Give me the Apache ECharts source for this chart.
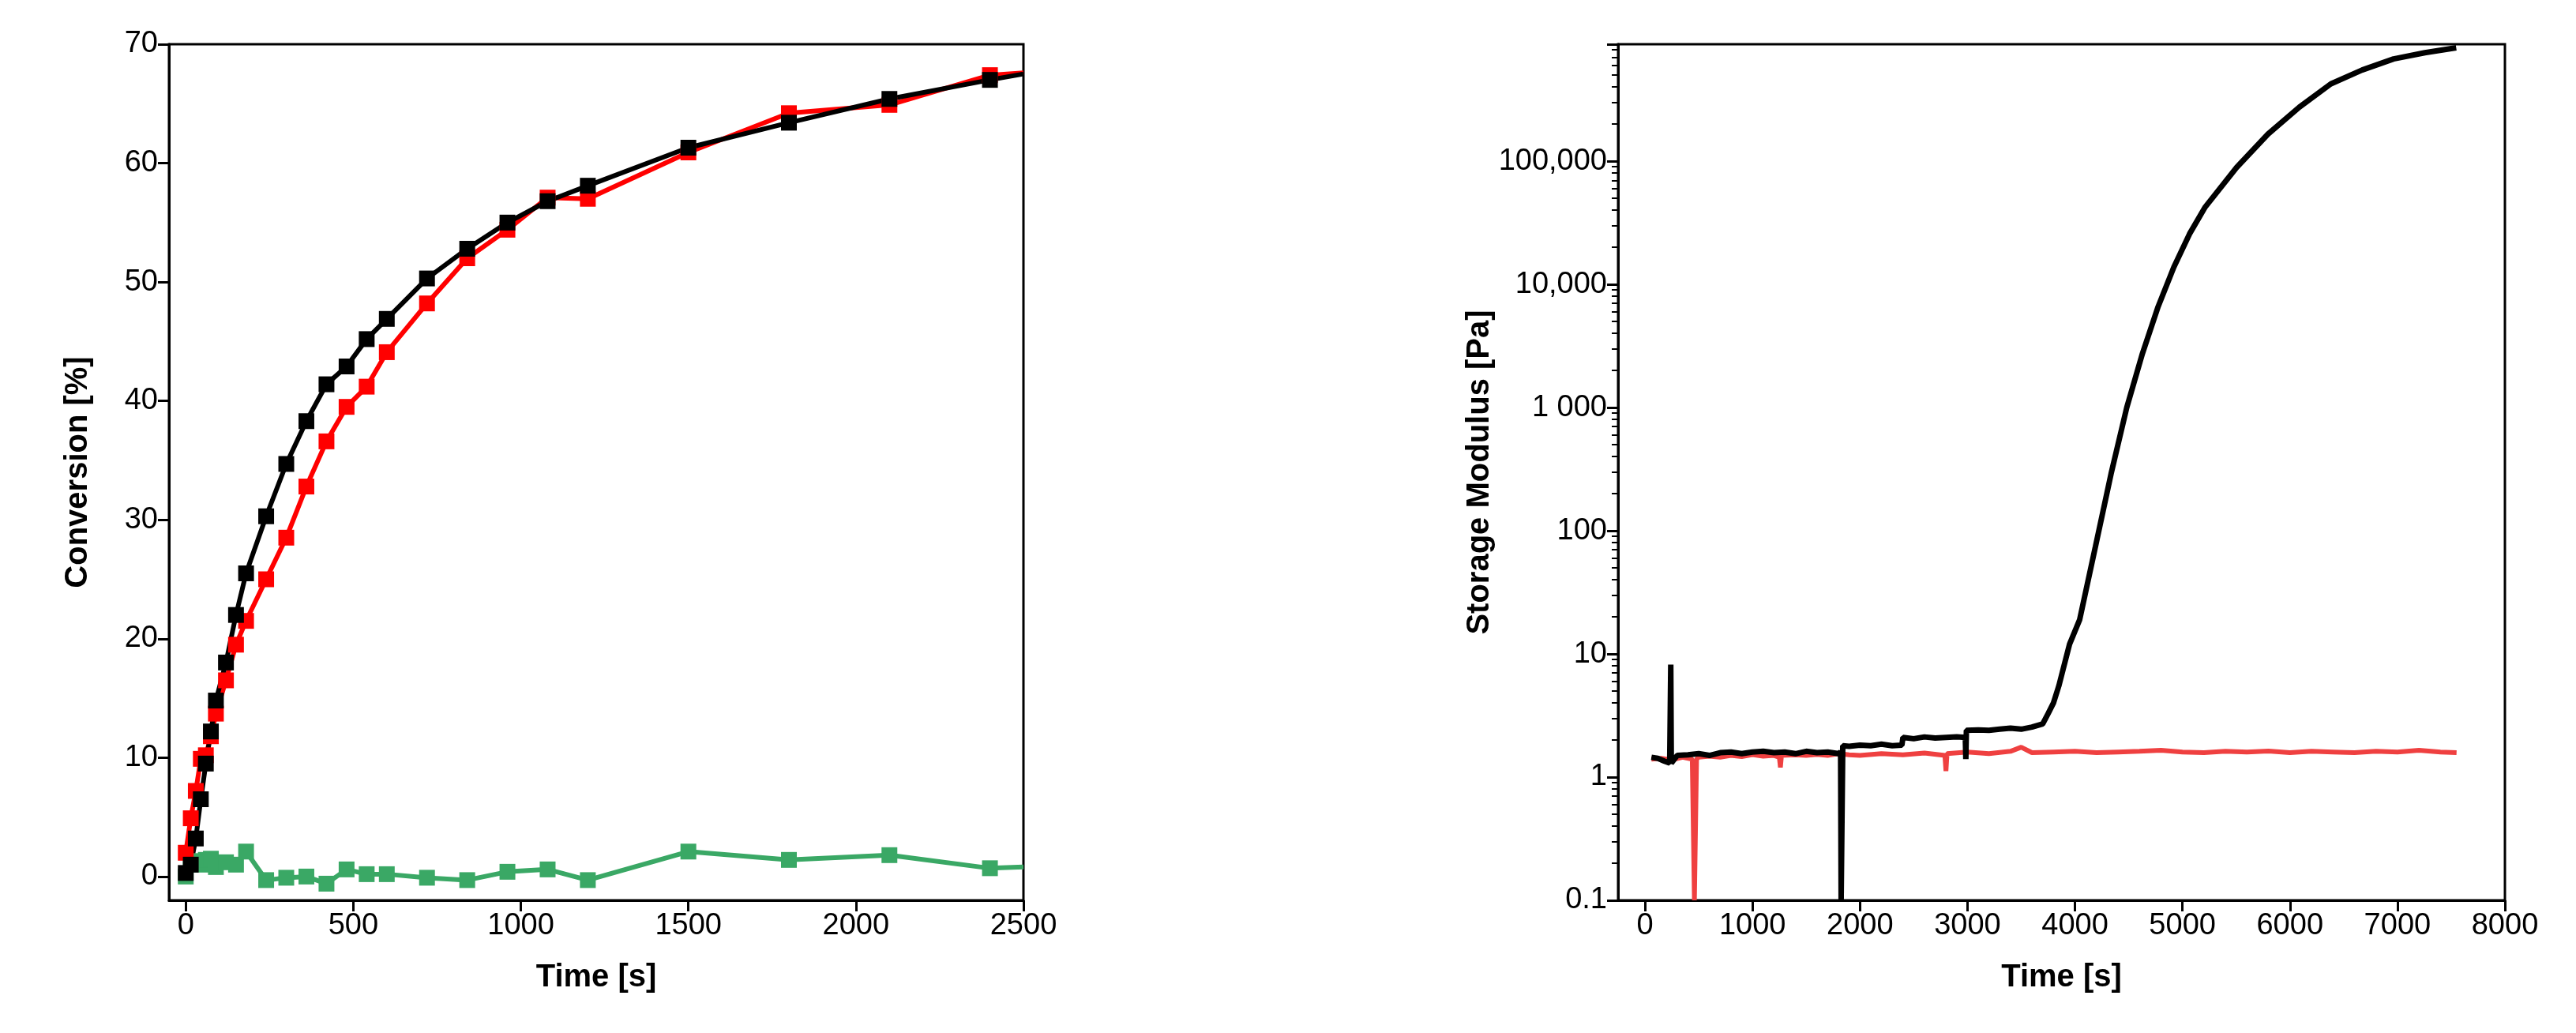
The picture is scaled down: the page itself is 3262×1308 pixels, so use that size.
<!DOCTYPE html>
<html><head><meta charset="utf-8">
<script src="https://cdn.jsdelivr.net/npm/echarts@6/dist/echarts.min.js"></script>
<style>html,body{margin:0;padding:0;background:#fff}#c{width:3262px;height:1308px}</style>
</head><body><div id="c"></div>
<script>
const convTime = [0,15,30,45,60,75,90,120,150,180,240,300,360,420,480,540,600,720,840,960,1080,1200,1500,1800,2100,2400,2500];
const convRed  = [2.0,4.9,7.2,9.9,10.2,11.8,13.7,16.5,19.5,21.5,25.0,28.5,32.8,36.6,39.5,41.2,44.1,48.2,52.0,54.4,57.1,57.0,60.9,64.2,64.9,67.4,67.6];
const convBlack= [0.3,1.0,3.2,6.5,9.5,12.2,14.8,18.0,22.0,25.5,30.3,34.7,38.3,41.4,42.9,45.2,46.9,50.3,52.8,55.0,56.8,58.1,61.3,63.4,65.4,67.0,67.5];
const convGreen= [0.0,1.2,1.3,1.0,1.4,1.5,0.8,1.2,1.0,2.1,-0.3,-0.1,0.0,-0.6,0.6,0.2,0.2,-0.1,-0.3,0.4,0.6,-0.3,2.1,1.4,1.8,0.7,0.8];
const convXTicks = [0,500,1000,1500,2000,2500];
const convYTicks = [0,10,20,30,40,50,60,70];

const modBlackT = [60,120,180,230,240,245,250,300,400,500,600,700,800,900,1000,1100,1200,1300,1400,1500,1600,1700,1800,1820,1825,1830,1840,1900,2000,2100,2200,2300,2390,2400,2500,2600,2700,2800,2900,2980,2985,2990,3000,3100,3200,3300,3400,3500,3600,3700,3752,3800,3850,3898,3950,4044,4190,4336,4482,4628,4774,4920,5066,5212,5504,5796,6088,6380,6672,6964,7255,7547];
const modBlackG = [1.45,1.42,1.35,1.3,8.2,1.3,1.3,1.5,1.52,1.55,1.5,1.58,1.6,1.55,1.6,1.62,1.58,1.6,1.55,1.62,1.58,1.6,1.55,1.6,0.1,0.1,1.8,1.78,1.82,1.8,1.85,1.8,1.82,2.1,2.05,2.12,2.08,2.1,2.12,2.1,1.4,2.4,2.35,2.42,2.4,2.45,2.5,2.45,2.55,2.7,3.3,4.0,5.5,8,12,19,74,290,1000,2750,6600,13800,25700,42500,89000,166000,275000,424000,550000,676000,760000,832000];
const modRedT = [60,150,250,350,440,460,470,480,500,600,700,800,900,1000,1100,1200,1250,1260,1270,1400,1500,1600,1700,1800,1900,2000,2200,2400,2600,2790,2800,2810,3000,3200,3400,3500,3600,3800,4000,4200,4400,4600,4800,5000,5200,5400,5600,5800,6000,6200,6400,6600,6800,7000,7200,7400,7550];
const modRedG = [1.4,1.42,1.38,1.45,1.4,0.1,0.1,1.4,1.45,1.48,1.45,1.5,1.47,1.52,1.48,1.5,1.45,1.2,1.5,1.52,1.5,1.53,1.5,1.55,1.52,1.5,1.55,1.52,1.57,1.5,1.12,1.55,1.6,1.55,1.62,1.75,1.58,1.6,1.62,1.58,1.6,1.62,1.65,1.6,1.58,1.62,1.6,1.63,1.58,1.62,1.6,1.58,1.62,1.6,1.65,1.6,1.58];
const modXTicks = [0,1000,2000,3000,4000,5000,6000,7000,8000];
const modYLabels = {"0.1":"0.1","1":"1","10":"10","100":"100","1000":"1 000","10000":"10,000","100000":"100,000"};

const FONT = 'Liberation Sans';
const mk = (t,v,last) => t.map((x,i)=> (last && i===t.length-1) ? {value:[x,v[i]],symbol:'none'} : [x,v[i]]);
function axisBase(){
  return {axisLine:{onZero:false,lineStyle:{color:'#000',width:3}},
    axisTick:{inside:false,length:14,lineStyle:{color:'#000',width:3}},
    minorTick:{show:false},
    splitLine:{show:false},
    axisLabel:{color:'#000',fontFamily:FONT,fontSize:38,margin:14,formatter:v=>String(v)},
    nameTextStyle:{color:'#000',fontFamily:FONT,fontSize:40,fontWeight:'bold'}};
}
const chart = echarts.init(document.getElementById('c'));
const lx = axisBase(), ly = axisBase(), rx = axisBase(), ry = axisBase();
Object.assign(lx,{type:'value',gridIndex:0,min:-50,max:2500,name:'Time [s]',nameLocation:'middle',nameGap:78});
lx.axisLabel.customValues = convXTicks; lx.axisTick.customValues = convXTicks;
Object.assign(ly,{type:'value',gridIndex:0,min:-2,max:70,name:'Conversion [%]',nameLocation:'middle',nameGap:95});
ly.axisLabel.customValues = convYTicks; ly.axisTick.customValues = convYTicks;
Object.assign(rx,{type:'value',gridIndex:1,min:-250,max:8000,name:'Time [s]',nameLocation:'middle',nameGap:78});
rx.axisLabel.customValues = modXTicks; rx.axisTick.customValues = modXTicks;
Object.assign(ry,{type:'log',gridIndex:1,min:0.1,max:890000,logBase:10,name:'Storage Modulus [Pa]',nameLocation:'middle',nameGap:140});
ry.axisLabel.formatter = v => modYLabels[String(Math.round(v*10)/10)] || '';
ry.minorTick = {show:true,splitNumber:9,length:8,lineStyle:{color:'#000',width:2}};

chart.setOption({
  animation:false,
  grid:[{left:214,right:1966,top:56,bottom:168,show:true,borderColor:'#000',borderWidth:3},
        {left:2049,right:90,top:56,bottom:168,show:true,borderColor:'#000',borderWidth:3}],
  xAxis:[lx,rx],
  yAxis:[ly,ry],
  series:[
    {type:'line',xAxisIndex:0,yAxisIndex:0,data:mk(convTime,convGreen,true),symbol:'rect',symbolSize:20,color:'#3aa865',lineStyle:{width:6}},
    {type:'line',xAxisIndex:0,yAxisIndex:0,data:mk(convTime,convRed,true),symbol:'rect',symbolSize:20,color:'#ff0000',lineStyle:{width:6}},
    {type:'line',xAxisIndex:0,yAxisIndex:0,data:mk(convTime,convBlack,true),symbol:'rect',symbolSize:20,color:'#000000',lineStyle:{width:6}},
    {type:'line',xAxisIndex:1,yAxisIndex:1,data:mk(modRedT,modRedG),showSymbol:false,color:'#ef4040',lineStyle:{width:6}},
    {type:'line',xAxisIndex:1,yAxisIndex:1,data:mk(modBlackT,modBlackG),showSymbol:false,color:'#000',lineStyle:{width:7}}
  ]
});
</script></body></html>
